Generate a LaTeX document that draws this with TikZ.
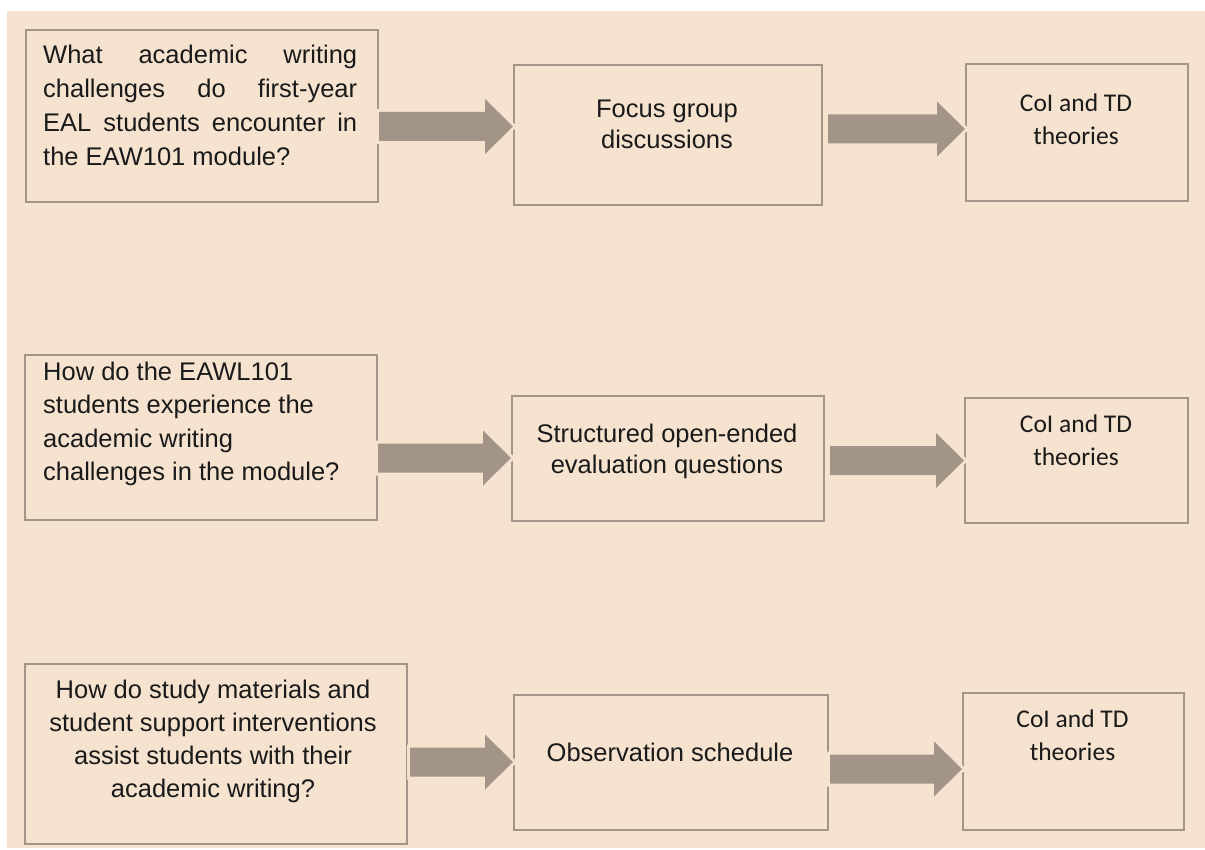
\documentclass[tikz,border=0pt]{standalone}
\usepackage{fontspec}
\setmainfont{Liberation Sans}
\newfontfamily\theoryfont{Carlito}
\usetikzlibrary{calc}

\definecolor{paper}{HTML}{F5E3D0}
\definecolor{frame}{HTML}{A39588}
\definecolor{arrowgray}{HTML}{A29587}
\definecolor{ink}{HTML}{1A1A1A}

\newcommand\qfont{\fontsize{25.5}{34}\selectfont}
\newcommand\tfont{\theoryfont\fontsize{25.5}{33}\selectfont}

\tikzset{
  box/.style={draw=frame, line width=2pt, inner sep=0pt, anchor=north west},
  qtext/.style={font=\qfont, text=ink, inner sep=0pt},
  ttext/.style={font=\tfont, text=ink, inner sep=0pt, anchor=base},
  arrowbody/.style={fill=arrowgray, preaction={draw=paper, line width=6pt}}
}

% block arrow from node #1 to node #2, axis at height #3 (from top), gap #4 after #1
\newcommand\blockarrow[4]{%
  \path[arrowbody] let \p1=($(#1.east)+(#4,0)$), \p2=(#2.west) in
    (\x1,-#3pt+14.5pt) -- (\x2-28pt,-#3pt+14.5pt) -- (\x2-28pt,-#3pt+27.5pt)
    -- (\x2,-#3pt) -- (\x2-28pt,-#3pt-27.5pt) -- (\x2-28pt,-#3pt-14.5pt)
    -- (\x1,-#3pt-14.5pt) -- cycle;}

\begin{document}
\begin{tikzpicture}[x=1pt,y=-1pt]
  \useasboundingbox (0,0) rectangle (1205,850);
  \fill[white] (0,0) rectangle (1205,850);
  \fill[paper] (7,11) rectangle (1205,848);

  % research questions
  \node[box, minimum width=352pt, minimum height=172pt] (a1) at (25,29) {};
  \node[box, minimum width=352pt, minimum height=165pt] (a2) at (24,354) {};
  \node[box, minimum width=382pt, minimum height=180pt] (a3) at (24,663) {};
  % data collection
  \node[box, minimum width=308pt, minimum height=140pt] (b1) at (513,64) {};
  \node[box, minimum width=312pt, minimum height=125pt] (b2) at (511,395) {};
  \node[box, minimum width=314pt, minimum height=135pt] (b3) at (513,694) {};
  % theoretical lens
  \node[box, minimum width=222pt, minimum height=137pt] (c1) at (965,63) {};
  \node[box, minimum width=223pt, minimum height=125pt] (c2) at (964,397) {};
  \node[box, minimum width=221pt, minimum height=137pt] (c3) at (962,692) {};

  % connectors
  \blockarrow{a1}{b1}{126.5}{0}
  \blockarrow{b1}{c1}{129}{5}
  \blockarrow{a2}{b2}{458}{0}
  \blockarrow{b2}{c2}{460.5}{5}
  \blockarrow{a3}{b3}{762}{2}
  \blockarrow{b3}{c3}{769}{1}

  % texts
  \node[qtext, anchor=base west] (a1t) at (43,64) {\parbox[t]{314pt}{%
    \makebox[314pt][s]{What academic writing}\\
    \makebox[314pt][s]{challenges do first-year}\\
    \makebox[314pt][s]{EAL students encounter in}\\
    the EAW101 module?}};
  \node[qtext, anchor=base west] (a2t) at (43,380) {\parbox[t]{330pt}{\raggedright
    \baselineskip=33.5pt
    How do the EAWL101\\
    students experience the\\
    academic writing\\
    challenges in the module?}};
  \node[qtext, anchor=base] (a3t) at (213,698) {\parbox[t]{372pt}{\centering
    \baselineskip=33.3pt
    How do study materials and\\
    student support interventions\\
    assist students with their\\
    academic writing?}};

  \node[qtext, anchor=base] (b1t) at (667,118) {\parbox[t]{300pt}{\centering
    \baselineskip=31pt
    Focus group\\discussions}};
  \node[qtext, anchor=base] (b2t) at (667,442) {\parbox[t]{300pt}{\centering
    \baselineskip=31pt
    Structured open-ended\\evaluation questions}};
  \node[qtext, anchor=base] (b3t) at (670,761) {Observation schedule};

  \node[ttext] (c1t) at (1076,112) {\parbox[t]{200pt}{\centering CoI and TD\\theories}};
  \node[ttext] (c2t) at (1076,432) {\parbox[t]{200pt}{\centering CoI and TD\\theories}};
  \node[ttext] (c3t) at (1072.5,727) {\parbox[t]{200pt}{\centering CoI and TD\\theories}};
\end{tikzpicture}
\end{document}
